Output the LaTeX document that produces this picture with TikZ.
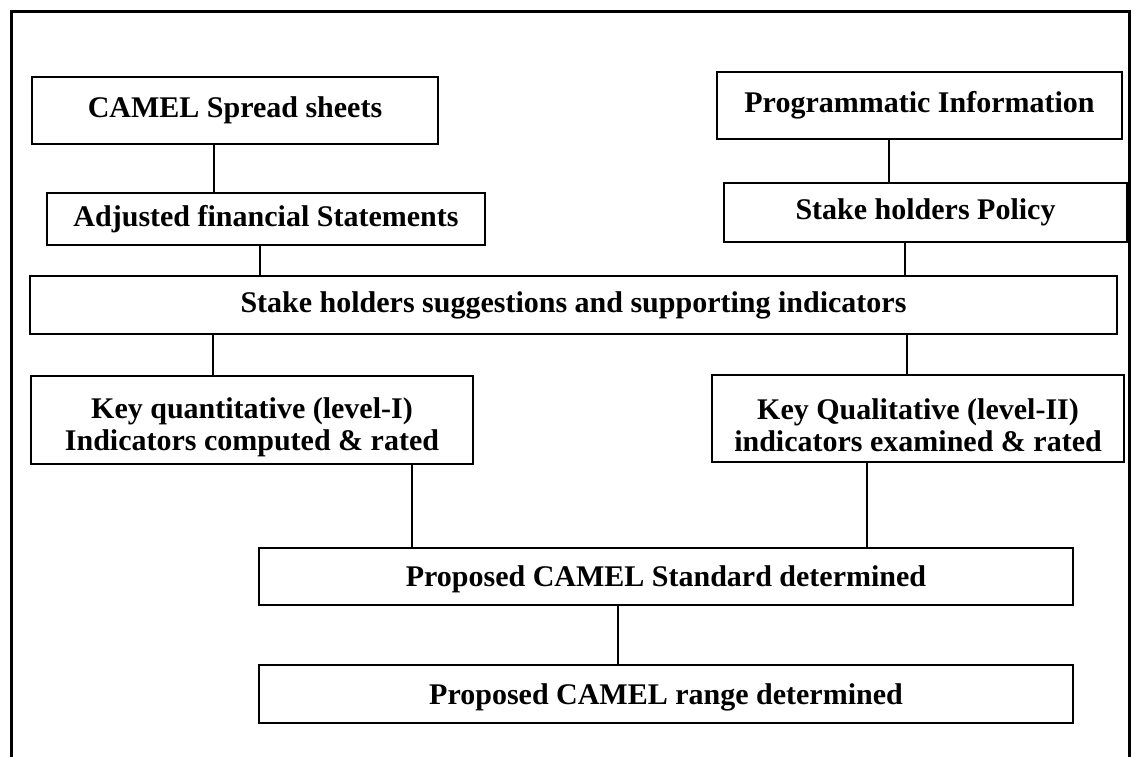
\documentclass[tikz,border=0pt]{standalone}
\usepackage{fontspec}
\setmainfont{Liberation Serif}
\begin{document}
\begin{tikzpicture}[x=1pt,y=-1pt,
  box/.style={draw, line width=1.6pt, inner sep=0pt, align=center,
    font=\fontsize{30}{32}\selectfont\bfseries},
  conn/.style={draw, line width=1.3pt},
  frameline/.style={draw, line width=3pt}]
\useasboundingbox (0,0) rectangle (1135,757);
% outer frame (open at the bottom)
\coordinate (fbl) at (11,757);
\coordinate (ftl) at (11,12);
\coordinate (ftr) at (1129,12);
\coordinate (fbr) at (1129,757);
\draw[frameline] (fbl) -- (ftl) -- (ftr) -- (fbr);
% boxes
\node[box, minimum width=406pt, minimum height=67pt] (b1) at (235,110.5) {CAMEL Spread sheets};
\node[box, minimum width=438pt, minimum height=52pt] (b2) at (266,219) {Adjusted financial Statements};
\node[box, minimum width=405pt, minimum height=67pt] (p1) at (919.5,105.5) {Programmatic Information};
\node[box, minimum width=403pt, minimum height=59pt] (p2) at (925.5,212.5) {Stake holders Policy};
\node[box, minimum width=1087pt, minimum height=58pt] (b3) at (573.5,305) {Stake holders suggestions and supporting indicators};
\node[box, minimum width=442pt, minimum height=88pt] (k1) at (252,420) {\rule{0pt}{35pt}Key quantitative (level-I)\\Indicators computed \& rated};
\node[box, minimum width=412pt, minimum height=87pt] (k2) at (918,418.5) {\rule{0pt}{35pt}Key Qualitative (level-II)\\indicators examined \& rated};
\node[box, minimum width=814pt, minimum height=57pt] (s1) at (666,576.5) {\rule{0pt}{27pt}Proposed CAMEL Standard determined};
\node[box, minimum width=814pt, minimum height=58pt] (s2) at (666,694) {\rule{0pt}{27pt}Proposed CAMEL range determined};
% connector x positions
\coordinate (xa) at (214,0);
\coordinate (xb) at (260,0);
\coordinate (xc) at (889,0);
\coordinate (xd) at (905,0);
\coordinate (xe) at (213,0);
\coordinate (xf) at (907,0);
\coordinate (xg) at (412,0);
\coordinate (xh) at (867,0);
\coordinate (xi) at (618,0);
% connectors
\draw[conn] (b1.south -| xa) -- (b2.north -| xa);
\draw[conn] (b2.south -| xb) -- (b3.north -| xb);
\draw[conn] (p1.south -| xc) -- (p2.north -| xc);
\draw[conn] (p2.south -| xd) -- (b3.north -| xd);
\draw[conn] (b3.south -| xe) -- (k1.north -| xe);
\draw[conn] (b3.south -| xf) -- (k2.north -| xf);
\draw[conn] (k1.south -| xg) -- (s1.north -| xg);
\draw[conn] (k2.south -| xh) -- (s1.north -| xh);
\draw[conn] (s1.south -| xi) -- (s2.north -| xi);
\end{tikzpicture}
\end{document}
